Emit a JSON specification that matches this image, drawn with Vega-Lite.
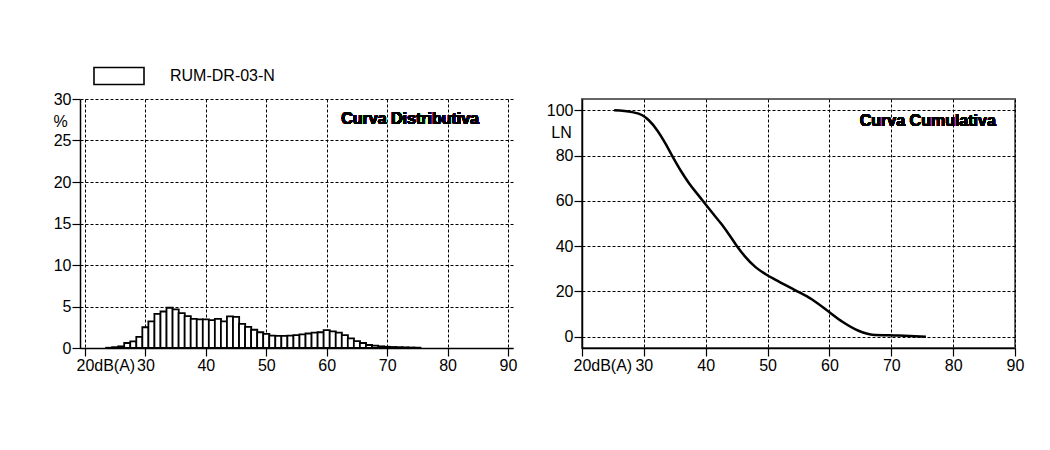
{
  "$schema": "https://vega.github.io/schema/vega-lite/v6.json",
  "background": "white",
  "padding": {"left": 52, "top": 50, "right": 5, "bottom": 5},
  "spacing": 28,
  "config": {
    "font": "Liberation Sans",
    "view": {"stroke": null},
    "axis": {
      "domainColor": "black", "domainWidth": 1.5,
      "tickColor": "black", "tickWidth": 1.2, "tickSize": 8,
      "labelColor": "black", "labelFontSize": 16, "labelFont": "Liberation Sans", "labelPadding": 1,
      "labelFlush": false,
      "gridColor": "black", "gridDash": [3, 2], "gridWidth": 1, "gridOpacity": 1,
      "titleFontSize": 16, "titleFontWeight": "normal", "titleColor": "black", "titleFont": "Liberation Sans"
    },
    "legend": {"labelFont": "Liberation Sans", "labelFontSize": 16, "labelColor": "black", "padding": 0, "offset": 0}
  },
  "resolve": {"scale": {"x": "independent", "y": "independent"}},
  "hconcat": [
    {
      "width": 433,
      "height": 249,
      "data": {"values": [
        {"db": 24, "pct": 0.03}, {"db": 25, "pct": 0.1}, {"db": 26, "pct": 0.2}, {"db": 27, "pct": 0.6},
        {"db": 28, "pct": 0.8}, {"db": 29, "pct": 1.35}, {"db": 30, "pct": 2.5}, {"db": 31, "pct": 3.2},
        {"db": 32, "pct": 4.1}, {"db": 33, "pct": 4.4}, {"db": 34, "pct": 4.85}, {"db": 35, "pct": 4.65},
        {"db": 36, "pct": 4.2}, {"db": 37, "pct": 3.85}, {"db": 38, "pct": 3.5}, {"db": 39, "pct": 3.45},
        {"db": 40, "pct": 3.45}, {"db": 41, "pct": 3.35}, {"db": 42, "pct": 3.5}, {"db": 43, "pct": 3.2},
        {"db": 44, "pct": 3.8}, {"db": 45, "pct": 3.75}, {"db": 46, "pct": 2.9}, {"db": 47, "pct": 2.55},
        {"db": 48, "pct": 2.2}, {"db": 49, "pct": 1.9}, {"db": 50, "pct": 1.7}, {"db": 51, "pct": 1.5},
        {"db": 52, "pct": 1.45}, {"db": 53, "pct": 1.45}, {"db": 54, "pct": 1.5}, {"db": 55, "pct": 1.55},
        {"db": 56, "pct": 1.65}, {"db": 57, "pct": 1.75}, {"db": 58, "pct": 1.85}, {"db": 59, "pct": 1.9},
        {"db": 60, "pct": 2.15}, {"db": 61, "pct": 2.0}, {"db": 62, "pct": 1.85}, {"db": 63, "pct": 1.55},
        {"db": 64, "pct": 1.15}, {"db": 65, "pct": 0.83}, {"db": 66, "pct": 0.6}, {"db": 67, "pct": 0.36},
        {"db": 68, "pct": 0.28}, {"db": 69, "pct": 0.2}, {"db": 70, "pct": 0.15}, {"db": 71, "pct": 0.12},
        {"db": 72, "pct": 0.1}, {"db": 73, "pct": 0.08}, {"db": 74, "pct": 0.06}, {"db": 75, "pct": 0.04}
      ]},
      "layer": [
        {
          "mark": {"type": "bar", "width": 6.19, "stroke": "black", "strokeWidth": 1.8},
          "encoding": {
            "x": {
              "field": "db", "type": "quantitative",
              "scale": {"domain": [20, 90], "nice": false, "zero": false},
              "axis": {
                "values": [20, 30, 40, 50, 60, 70, 80, 90],
                "labelExpr": "datum.value == 20 ? '20dB(A)' : datum.label",
                "labelAlign": {"condition": {"test": "datum.value == 20", "value": "left"}, "value": "center"},
                "labelOffset": {"condition": {"test": "datum.value == 20", "value": -9}, "value": 0},
                "title": null, "grid": true
              }
            },
            "y": {
              "field": "pct", "type": "quantitative",
              "scale": {"domain": [0, 30], "nice": false},
              "axis": {
                "values": [0, 5, 10, 15, 20, 25, 30], "grid": true,
                "title": "%", "titleAngle": 0, "titleX": -20, "titleY": 22,
                "titleAlign": "center", "titleBaseline": "middle"
              }
            },
            "fill": {
              "datum": "RUM-DR-03-N",
              "scale": {"range": ["white"]},
              "legend": {
                "orient": "none", "legendX": 13, "legendY": -49, "title": null,
                "symbolType": "M-1,-0.34H1V0.34H-1Z", "symbolSize": 2500,
                "symbolStrokeColor": "black", "symbolStrokeWidth": 1.6,
                "labelOffset": 25
              }
            }
          }
        },
        {
          "mark": {"type": "text", "align": "right", "baseline": "middle", "fontWeight": "bold", "fontSize": 16, "color": "black"},
          "encoding": {
            "x": {"datum": 85.2, "type": "quantitative"},
            "y": {"datum": 27.6, "type": "quantitative"},
            "text": {"value": "Curva Distributiva"}
          }
        }
      ]
    },
    {
      "width": 433,
      "height": 249,
      "view": {"stroke": "#666", "strokeWidth": 2},
      "data": {"values": [
        {"db": 25.2, "ln": 100}, {"db": 28.1, "ln": 99.2}, {"db": 29.75, "ln": 97.8}, {"db": 30.8, "ln": 95.6},
        {"db": 32.2, "ln": 91.0}, {"db": 33.5, "ln": 85.3}, {"db": 34.6, "ln": 79.8}, {"db": 36.0, "ln": 73.2},
        {"db": 37.3, "ln": 67.8}, {"db": 38.9, "ln": 62.2}, {"db": 40.0, "ln": 58.4}, {"db": 41.2, "ln": 54.3},
        {"db": 42.7, "ln": 49.2}, {"db": 43.8, "ln": 45.0}, {"db": 45.0, "ln": 40.2}, {"db": 46.3, "ln": 35.6},
        {"db": 48.1, "ln": 30.6}, {"db": 49.7, "ln": 27.6}, {"db": 51.3, "ln": 25.1}, {"db": 54.5, "ln": 20.5},
        {"db": 57.2, "ln": 16.4}, {"db": 59.9, "ln": 11.0}, {"db": 62.1, "ln": 6.6}, {"db": 64.8, "ln": 2.5},
        {"db": 66.9, "ln": 0.9}, {"db": 71.2, "ln": 0.5}, {"db": 75.6, "ln": 0}
      ]},
      "layer": [
        {
          "mark": {"type": "line", "strokeWidth": 2.5, "interpolate": "monotone"},
          "encoding": {
            "x": {
              "field": "db", "type": "quantitative",
              "scale": {"domain": [20, 90], "nice": false, "zero": false},
              "axis": {
                "values": [20, 30, 40, 50, 60, 70, 80, 90],
                "labelExpr": "datum.value == 20 ? '20dB(A)' : datum.label",
                "labelAlign": {"condition": {"test": "datum.value == 20", "value": "left"}, "value": "center"},
                "labelOffset": {"condition": {"test": "datum.value == 20", "value": -9}, "value": 0},
                "title": null, "grid": true
              }
            },
            "y": {
              "field": "ln", "type": "quantitative",
              "scale": {"domain": [-5, 105], "nice": false, "zero": false},
              "axis": {
                "values": [0, 20, 40, 60, 80, 100], "grid": true,
                "title": "LN", "titleAngle": 0, "titleX": -21, "titleY": 33,
                "titleAlign": "center", "titleBaseline": "middle"
              }
            },
            "stroke": {
              "datum": "RUM-DR-03-N",
              "scale": {"range": ["black"]},
              "legend": {
                "orient": "none", "legendX": 11, "legendY": -42, "title": null,
                "symbolType": "stroke", "symbolSize": 2916, "symbolStrokeWidth": 2.5,
                "labelOffset": 24
              }
            }
          }
        },
        {
          "mark": {"type": "text", "align": "right", "baseline": "middle", "fontWeight": "bold", "fontSize": 16, "color": "black"},
          "encoding": {
            "x": {"datum": 86.9, "type": "quantitative"},
            "y": {"datum": 95.2, "type": "quantitative"},
            "text": {"value": "Curva Cumulativa"}
          }
        }
      ]
    }
  ]
}
